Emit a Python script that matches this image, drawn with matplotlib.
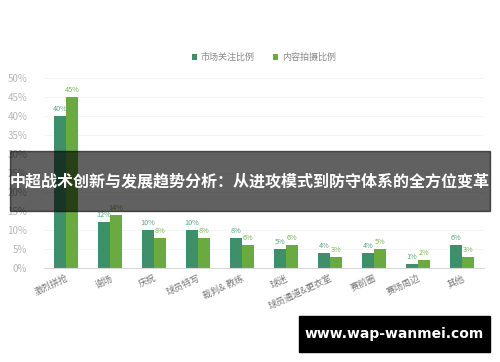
import numpy as np
import matplotlib.pyplot as plt
from matplotlib.patches import Rectangle

plt.rcParams['font.family'] = ['Noto Sans CJK SC', 'DejaVu Sans']

categories = ['激烈拼抢', '谢场', '庆祝', '球员特写', '裁判& 教练', '球迷',
              '球员通道&更衣室', '赛前圈', '赛场周边', '其他']
market = [40, 12, 10, 10, 8, 5, 4, 4, 1, 6]
content = [45, 14, 8, 8, 6, 6, 3, 5, 2, 3]
yticks = [0, 5, 10, 15, 20, 25, 30, 35, 40, 45, 50]

dark = '#3f8f6a'
light = '#6aaa40'
dark_lbl = '#5aa683'
light_lbl = '#78b84e'

fig = plt.figure(figsize=(5, 3.62), dpi=100)
ax = fig.add_axes([44 / 500, 94 / 362, 440 / 500, 190 / 362])

x = np.arange(len(categories))
w = 0.27
ax.bar(x - w / 2, market, w, color=dark, label='市场关注比例')
ax.bar(x + w / 2, content, w, color=light, label='内容拍摄比例')

for i in range(len(categories)):
    ax.text(x[i] - w / 2, market[i] + 0.8, f'{market[i]}%', ha='center', va='bottom',
            fontsize=5.2, color=dark_lbl)
    ax.text(x[i] + w / 2, content[i] + 0.8, f'{content[i]}%', ha='center', va='bottom',
            fontsize=5.2, color=light_lbl)

ax.set_xlim(-0.5, len(categories) - 0.5)
ax.set_ylim(0, 50)
ax.set_yticks(yticks)
ax.set_yticklabels([f'{t}%' for t in yticks], fontsize=7, color='#b5b5b5')
ax.set_xticks(x)
ax.set_xticklabels(categories, rotation=25, ha='right', rotation_mode='anchor',
                   fontsize=6.5, color='#777777')
ax.tick_params(length=0, pad=4)
ax.tick_params(axis='y', pad=12)
ax.grid(axis='y', color='#f2f2f2', linewidth=0.6)
ax.set_axisbelow(True)
for s in ['top', 'right', 'left']:
    ax.spines[s].set_visible(False)
ax.spines['bottom'].set_color('#d9d9d9')

ax.legend(loc='lower center', bbox_to_anchor=(0.5, 1.04), ncol=2, frameon=False,
          fontsize=6.5, labelcolor='#888888', handlelength=0.6, handleheight=0.6,
          handletextpad=0.4, columnspacing=2.0)

# title banner
fig.patches.append(Rectangle((10 / 500, (362 - 211) / 362), 480 / 500, 60 / 362,
                             transform=fig.transFigure, color='black', alpha=0.62,
                             zorder=10))
fig.text(0.5, (362 - 181) / 362, '中超战术创新与发展趋势分析：从进攻模式到防守体系的全方位变革',
         ha='center', va='center', fontsize=11.55, fontweight='bold', color='white',
         zorder=11)

# watermark
fig.patches.append(Rectangle((299 / 500, (362 - 352) / 362), 191 / 500, 36 / 362,
                             transform=fig.transFigure, color='black', zorder=10))
fig.text(394.5 / 500, (362 - 334) / 362, 'www.wap-wanmei.com', ha='center', va='center',
         fontsize=10, fontweight='bold', color='white', family='DejaVu Sans', zorder=11)

fig.savefig('out.png', dpi=100)
